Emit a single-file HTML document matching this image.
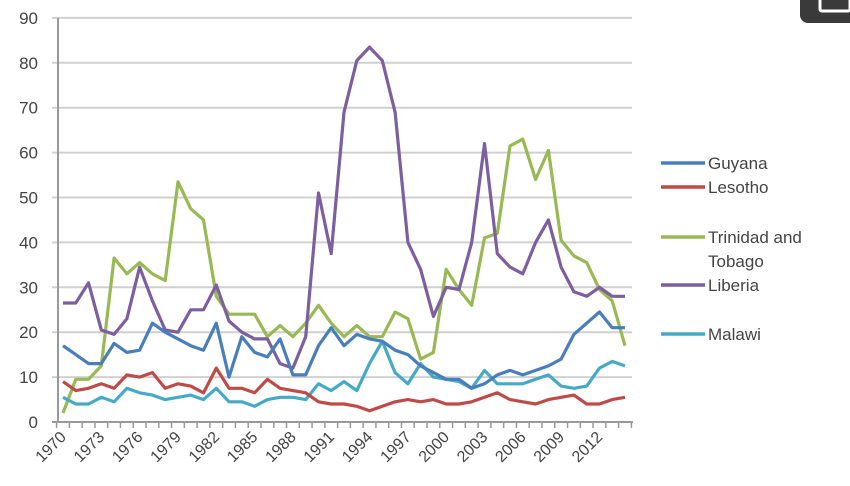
<!DOCTYPE html>
<html><head><meta charset="utf-8"><style>
html,body{margin:0;padding:0;background:#fff;width:850px;height:486px;overflow:hidden}
svg text{font-family:"Liberation Sans",sans-serif;fill:#444}
</style></head><body>
<svg id="c" width="850" height="486" xmlns="http://www.w3.org/2000/svg">
<rect x="800" y="-10" width="60" height="33" rx="8" fill="#3a3a3a"/>
<rect x="820" y="-5" width="30" height="16" rx="2" fill="none" stroke="#fff" stroke-width="3"/>
<g id="grid"></g>
<g id="series" fill="none" stroke-width="3.2" stroke-linejoin="round"></g>
<g font-size="17">
<line x1="661" y1="163" x2="705" y2="163" stroke="#4a7ebb" stroke-width="3.5"/><text x="708" y="169">Guyana</text>
<line x1="661" y1="187" x2="705" y2="187" stroke="#be4b48" stroke-width="3.5"/><text x="708" y="193">Lesotho</text>
<line x1="661" y1="237" x2="705" y2="237" stroke="#98b954" stroke-width="3.5"/><text x="708" y="243">Trinidad and</text><text x="708" y="267">Tobago</text>
<line x1="661" y1="285" x2="705" y2="285" stroke="#7d5fa0" stroke-width="3.5"/><text x="708" y="291">Liberia</text>
<line x1="661" y1="334" x2="705" y2="334" stroke="#46aac5" stroke-width="3.5"/><text x="708" y="340">Malawi</text>
</g>
</svg>
<script>
var ns="http://www.w3.org/2000/svg",svg=document.getElementById('c');
function el(p,t,a,txt){var e=document.createElementNS(ns,t);for(var k in a)e.setAttribute(k,a[k]);if(txt!=null)e.textContent=txt;p.appendChild(e);return e;}
var g=document.getElementById('grid');
var Y=function(v){return 422-v*4.49;};
var X0=63,DX=(625-63)/44,X=function(i){return X0+i*DX;};
for(var v=0;v<=90;v+=10){
 if(v>0)el(g,'line',{x1:52,y1:Y(v),x2:632,y2:Y(v),stroke:'#d0d0d0','stroke-width':2});
 el(g,'text',{x:38,y:Y(v)+6,'text-anchor':'end','font-size':17},v);
}
el(g,'line',{x1:58,y1:Y(90),x2:58,y2:422,stroke:'#999','stroke-width':2});
el(g,'line',{x1:52,y1:422,x2:633,y2:422,stroke:'#999','stroke-width':2});
for(var i=0;i<=45;i++){var x=X0-DX/2+i*DX;el(g,'line',{x1:x,y1:422,x2:x,y2:428,stroke:'#999','stroke-width':1.5});}
for(var yr=1970;yr<=2012;yr+=3){var x=X(yr-1970);el(g,'text',{x:x+4,y:438,'text-anchor':'end','font-size':16,transform:'rotate(-45 '+(x+4)+' 438)'},yr);}
var D={
'#98b954':[2,9.5,9.5,12.5,36.5,33,35.5,33,31.5,53.5,47.5,45,28,24,24,24,19,21.5,19,22,26,22,19,21.5,19,19,24.5,23,14,15.5,34,29.5,26,41,42,61.5,63,54,60.5,40.5,37,35.5,29.5,27,17],
'#7d5fa0':[26.5,26.5,31,20.5,19.5,23,34.5,27,20.5,20,25,25,30.5,22.5,20,18.5,18.5,13,12,19,51,37.5,69,80.5,83.5,80.5,69,40,34,23.5,30,29.5,40,62,37.5,34.5,33,40,45,34.5,29,28,30,28,28],
'#46aac5':[5.5,4,4,5.5,4.5,7.5,6.5,6,5,5.5,6,5,7.5,4.5,4.5,3.5,5,5.5,5.5,5,8.5,7,9,7,13,18,11,8.5,13,10,9.5,9,7.5,11.5,8.5,8.5,8.5,9.5,10.5,8,7.5,8,12,13.5,12.5],
'#be4b48':[9,7,7.5,8.5,7.5,10.5,10,11,7.5,8.5,8,6.5,12,7.5,7.5,6.5,9.5,7.5,7,6.5,4.5,4,4,3.5,2.5,3.5,4.5,5,4.5,5,4,4,4.5,5.5,6.5,5,4.5,4,5,5.5,6,4,4,5,5.5],
'#4a7ebb':[17,15,13,13,17.5,15.5,16,22,20,18.5,17,16,22,10,19,15.5,14.5,18.5,10.5,10.5,17,21,17,19.5,18.5,18,16,15,12.5,11,9.5,9.5,7.5,8.5,10.5,11.5,10.5,11.5,12.5,14,19.5,22,24.5,21,21]
};
var s=document.getElementById('series');
for(var c in D){var p=D[c].map(function(v,i){return X(i).toFixed(1)+','+Y(v).toFixed(1);}).join(' ');el(s,'polyline',{points:p,stroke:c});}
</script>
</body></html>
